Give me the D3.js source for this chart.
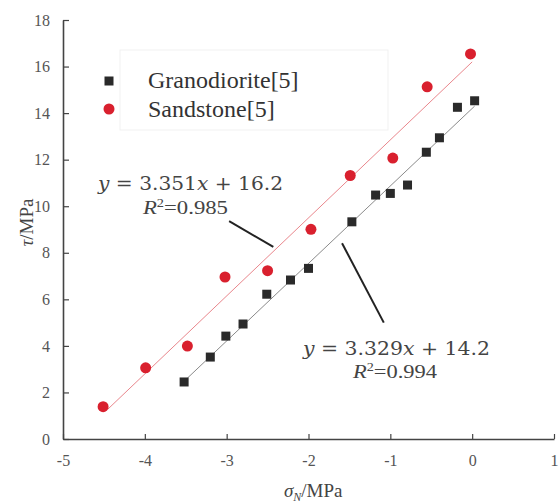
<!DOCTYPE html>
<html>
<head>
<meta charset="utf-8">
<script src="https://cdn.jsdelivr.net/npm/d3@7"></script>
<style>
  body { margin: 0; background: #fff; }
  svg text { font-family: "Liberation Serif", "Times New Roman", Times, serif; }
  .tick text { font-size: 16px; fill: #555; }
  svg text.eq { font-family: "DejaVu Serif", serif; fill: #444; }
  .r2 { fill: #444; }
</style>
</head>
<body>
<svg id="chart" width="559" height="504"></svg>
<script>
// Granodiorite[5] points
const granX = [-3.52, -3.20, -3.01, -2.80, -2.51, -2.22, -2.00, -1.47, -1.18, -1.00, -0.79, -0.56, -0.40, -0.18, 0.03];
const granY = [2.45, 3.52, 4.42, 4.94, 6.22, 6.83, 7.33, 9.33, 10.48, 10.55, 10.91, 12.32, 12.94, 14.25, 14.53];
// Sandstone[5] points
const sandX = [-4.51, -3.99, -3.48, -3.02, -2.50, -1.97, -1.49, -0.97, -0.55, -0.02];
const sandY = [1.39, 3.06, 3.99, 6.96, 7.23, 9.01, 11.32, 12.07, 15.13, 16.54];
// linear fits
const granFit = { slope: 3.329, icpt: 14.2, from: -3.48, to: 0.03 };
const sandFit = { slope: 3.351, icpt: 16.2, from: -4.45, to: 0 };
const xTicks = [-5, -4, -3, -2, -1, 0, 1];
const yTicks = [0, 2, 4, 6, 8, 10, 12, 14, 16, 18];

const svg = d3.select("#chart"),
    margin = { top: 20, right: 5, bottom: 65, left: 63 },
    width = +svg.attr("width") - margin.left - margin.right,
    height = +svg.attr("height") - margin.top - margin.bottom,
    g = svg.append("g").attr("transform", "translate(" + margin.left + "," + margin.top + ")");

const x = d3.scaleLinear().domain([-5, 1]).range([0, width]);
const y = d3.scaleLinear().domain([0, 18]).range([height, 0]);

const axisColor = "#444";

// x axis, ticks pointing inward
const gx = g.append("g")
    .attr("transform", "translate(0," + height + ")")
    .call(d3.axisBottom(x).tickValues(xTicks).tickSizeInner(-5).tickSizeOuter(0).tickPadding(16));
gx.select(".domain").attr("stroke", axisColor).attr("stroke-width", 1.6);
gx.selectAll(".tick line").attr("stroke", axisColor).attr("stroke-width", 1.2);
gx.selectAll(".tick text").text(d => d < 0 ? "-" + Math.abs(d) : d);

// y axis
const gy = g.append("g")
    .call(d3.axisLeft(y).tickValues(yTicks).tickSizeInner(-6).tickSizeOuter(0).tickPadding(13));
gy.select(".domain").attr("stroke", axisColor).attr("stroke-width", 1.6);
gy.selectAll(".tick line").attr("stroke", axisColor).attr("stroke-width", 1.2);

// axis titles
const xt = svg.append("text")
    .attr("x", margin.left + x(-2.3))
    .attr("y", 497)
    .style("font-size", "19px")
    .attr("fill", "#444");
xt.append("tspan").attr("font-style", "italic").text("σ");
xt.append("tspan").attr("font-style", "italic").style("font-size", "12px").attr("dy", 4).text("N");
xt.append("tspan").attr("dy", -4).text("/MPa");

const yt = svg.append("text")
    .attr("transform", "translate(33," + (margin.top + y(9.3)) + ") rotate(-90)")
    .attr("text-anchor", "middle")
    .style("font-size", "19px")
    .attr("fill", "#444");
yt.append("tspan").attr("font-style", "italic").text("τ");
yt.append("tspan").text("/MPa");

// fit lines
const fitLine = (f, color) => {
    g.append("line")
        .attr("x1", x(f.from)).attr("y1", y(f.slope * f.from + f.icpt))
        .attr("x2", x(f.to)).attr("y2", y(f.slope * f.to + f.icpt))
        .attr("stroke", color).attr("stroke-width", 1);
};
fitLine(sandFit, "#e9868c");
fitLine(granFit, "#8a8a8a");

// points
g.selectAll(".gran").data(granX).enter().append("rect")
    .attr("class", "gran")
    .attr("x", (d, i) => x(d) - 4.5)
    .attr("y", (d, i) => y(granY[i]) - 4.5)
    .attr("width", 9).attr("height", 9)
    .attr("fill", "#2a2a2a");

g.selectAll(".sand").data(sandX).enter().append("circle")
    .attr("class", "sand")
    .attr("cx", d => x(d))
    .attr("cy", (d, i) => y(sandY[i]))
    .attr("r", 5.5)
    .attr("fill", "#d9202e");

// legend (faint box)
svg.append("rect")
    .attr("x", 120).attr("y", 50).attr("width", 268).attr("height", 80)
    .attr("fill", "none").attr("stroke", "#f1f1f1").attr("stroke-width", 1);
svg.append("rect").attr("x", 104.5).attr("y", 76.5).attr("width", 9).attr("height", 9).attr("fill", "#2a2a2a");
svg.append("circle").attr("cx", 109).attr("cy", 109).attr("r", 5.5).attr("fill", "#d9202e");
svg.append("text").attr("x", 148).attr("y", 88)
    .style("font-size", "24px").attr("fill", "#333")
    .text("Granodiorite[5]");
svg.append("text").attr("x", 148).attr("y", 117)
    .style("font-size", "24px").attr("fill", "#333")
    .text("Sandstone[5]");

// equations
function equation(px, py, w, slope, icpt) {
    const t = svg.append("text").attr("class", "eq")
        .attr("x", px).attr("y", py)
        .style("font-size", "19px")
        .attr("textLength", w).attr("lengthAdjust", "spacingAndGlyphs");
    t.append("tspan").attr("font-style", "italic").text("y");
    t.append("tspan").text(" = " + slope.toFixed(3));
    t.append("tspan").attr("font-style", "italic").text("x");
    t.append("tspan").text(" + " + icpt.toFixed(1));
}
function r2(px, py, w, val) {
    const t = svg.append("text").attr("class", "r2")
        .attr("x", px).attr("y", py)
        .style("font-size", "19px")
        .attr("textLength", w).attr("lengthAdjust", "spacingAndGlyphs");
    t.append("tspan").attr("font-style", "italic").text("R");
    t.append("tspan").style("font-size", "12px").attr("dy", -7).text("2");
    t.append("tspan").attr("dy", 7).text("=" + val);
}
equation(98, 190, 185, sandFit.slope, sandFit.icpt);
r2(143, 214, 85, "0.985");
equation(303, 355, 187, granFit.slope, granFit.icpt);
r2(353, 378, 84, "0.994");

// pointer lines from equations to the fits
const pointers = [
    { x1: -2.97, y1: 9.36, x2: -2.43, y2: 8.25 },
    { x1: -1.59, y1: 8.41, x2: -1.08, y2: 5.0 }
];
g.selectAll(".ptr").data(pointers).enter().append("line")
    .attr("class", "ptr")
    .attr("x1", d => x(d.x1)).attr("y1", d => y(d.y1))
    .attr("x2", d => x(d.x2)).attr("y2", d => y(d.y2))
    .attr("stroke", "#222").attr("stroke-width", 2);
</script>
</body>
</html>
